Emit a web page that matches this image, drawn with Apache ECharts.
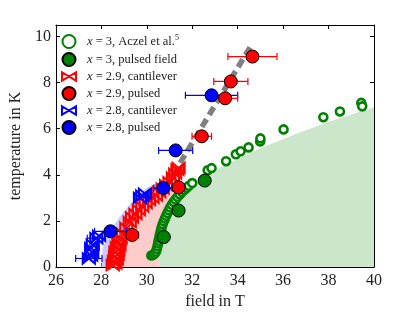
<!DOCTYPE html>
<html><head><meta charset="utf-8">
<script src="https://cdn.jsdelivr.net/npm/echarts@6/dist/echarts.min.js"></script>
<style>html,body{margin:0;padding:0;background:#fff}#c{width:394px;height:315px}</style>
</head><body><div id="c"></div>
<script>
// ---- data (field in T, temperature in K) ----
const aczelX3 = [[30.2,0.5],[30.27,0.52],[30.34,0.58],[30.4,0.66],[30.44,0.78],[30.47,0.9],[30.5,1.02],[30.52,1.14],[30.55,1.26],[30.57,1.38],[30.6,1.5],[30.63,1.62],[30.66,1.74],[30.7,1.86],[30.75,1.98],[30.8,2.1],[30.85,2.22],[30.91,2.34],[30.97,2.46],[31.03,2.58],[31.1,2.7],[31.18,2.82],[31.26,2.93],[31.35,3.04],[31.45,3.15],[31.55,3.25],[31.65,3.34],[31.75,3.43],[31.85,3.52],[32.0,3.64],[32.68,4.2],[32.85,4.29],[33.49,4.59],[33.92,4.89],[34.13,5.02],[34.48,5.19],[34.99,5.45],[35.0,5.58],[36.02,5.97],[37.77,6.5],[38.5,6.75],[39.44,7.12],[39.48,6.97]];
const pulsedX3 = [[30.75,1.3],[31.4,2.45],[32.55,3.75]];
const cantX29 = [[28.5,0.08],[28.62,0.15],[28.55,0.25],[28.68,0.35],[28.6,0.45],[28.72,0.55],[28.62,0.65],[28.75,0.75],[28.68,0.85],[28.8,0.95],[28.75,1.05],[28.85,1.25],[28.95,1.45],[29.1,1.7],[29.25,1.95],[29.35,2.15],[29.5,2.3],[29.65,2.47],[29.8,2.62],[29.95,2.78],[30.1,2.9],[30.25,3.0],[30.4,3.1],[30.55,3.25],[30.7,3.4],[30.85,3.55],[31.0,3.68],[31.15,3.88],[31.25,4.05],[31.35,4.22],[31.4,4.3]];
const pulsedX29 = [[29.36,1.39],[31.4,3.46],[32.42,5.67],[33.45,7.32],[33.7,8.05],[34.65,9.13]];
const pulsedX29Err = [0.28,0.2,0.43,0.55,0.75,1.08];
const cantX28 = [[27.45,0.37],[27.55,0.5],[27.6,0.65],[27.55,0.82],[27.62,0.97],[27.78,1.25],[27.9,1.35],[29.7,3.0],[29.8,3.1],[29.92,3.18]];
const cantX28Err = [0.58,0,0,0,0,0.4,0,0,0,0];
const pulsedX28 = [[28.4,1.55],[30.73,3.43],[31.27,5.06],[32.85,7.45]];
const pulsedX28Err = [0.7,0.42,0.75,1.15];
const guideLine = [[31.15,4.0],[34.65,9.7]];
const regionGreen = [[30.5,0],[30.6,0.8],[30.75,1.6],[31.0,2.4],[31.35,3.0],[31.9,3.5],[32.6,4.0],[33.6,4.5],[35.0,5.15],[36.5,5.75],[38.0,6.3],[40,6.93],[40,0]];
const regionPink = [[28.35,0],[28.5,0.8],[28.85,1.6],[29.35,2.3],[29.9,2.9],[30.4,3.35],[30.9,3.65],[31.5,3.6],[31.9,3.5],[31.35,3.0],[31.0,2.4],[30.75,1.6],[30.6,0.8],[30.5,0]];
const regionBlue = [[28.0,0],[28.05,0.8],[28.4,1.6],[28.9,2.3],[29.5,3.0],[30.0,3.45],[30.6,3.7],[30.9,3.65],[30.4,3.35],[29.9,2.9],[29.35,2.3],[28.85,1.6],[28.5,0.8],[28.35,0]];
const seriesNames = ['x3a','x3p','x29c','x29p','x28c','x28p'];
const legendLabels = {
  x3a: '{i|x} = 3, Aczel et al.{s|5}',
  x3p: '{i|x} = 3, pulsed field',
  x29c: '{i|x} = 2.9, cantilever',
  x29p: '{i|x} = 2.9, pulsed',
  x28c: '{i|x} = 2.8, cantilever',
  x28p: '{i|x} = 2.8, pulsed'
};

const FONT = 'Liberation Serif';
const bowtie = 'path://M0,0L10,6L0,12ZM20,0L10,6L20,12Z';

function regionSeries(pts, color) {
  return {
    type: 'custom', silent: true, data: [[0,0]], z: 1,
    renderItem: function (params, api) {
      return { type: 'polygon', shape: { points: pts.map(p => api.coord(p)) },
               style: { fill: color, stroke: 'none' } };
    }
  };
}
function errSeries(pts, errs, color) {
  const data = pts.map((p, i) => [p[0], p[1], errs[i]]).filter(d => d[2] > 0);
  return {
    type: 'custom', silent: true, data: data, z: 3,
    renderItem: function (params, api) {
      const x = api.value(0), y = api.value(1), e = api.value(2);
      const a = api.coord([x - e, y]), b = api.coord([x + e, y]);
      const st = { stroke: color, lineWidth: 1.2 };
      return { type: 'group', children: [
        { type: 'line', shape: { x1: a[0], y1: a[1], x2: b[0], y2: b[1] }, style: st },
        { type: 'line', shape: { x1: a[0], y1: a[1] - 3.5, x2: a[0], y2: a[1] + 3.5 }, style: st },
        { type: 'line', shape: { x1: b[0], y1: b[1] - 3.5, x2: b[0], y2: b[1] + 3.5 }, style: st }
      ]};
    }
  };
}

const axisCommon = {
  axisLine: { show: true, onZero: false, lineStyle: { color: '#000', width: 1 } },
  axisTick: { show: true, inside: true, length: 4, lineStyle: { color: '#000', width: 1 } },
  splitLine: { show: false }
};
const emph = { disabled: true };

const chart = echarts.init(document.getElementById('c'), null, { renderer: 'canvas' });
chart.setOption({
  animation: false,
  backgroundColor: '#fff',
  grid: { left: 47, right: 20, top: 25, bottom: 48, containLabel: false },
  xAxis: [
    Object.assign({ type: 'value', min: 26, max: 40, interval: 2, position: 'bottom',
      name: 'field in T', nameLocation: 'middle', nameGap: 22,
      nameTextStyle: { fontFamily: FONT, fontSize: 16, color: '#222' },
      axisLabel: { fontFamily: FONT, fontSize: 16, color: '#222', margin: 6 } }, axisCommon),
    Object.assign({ type: 'value', min: 26, max: 40, interval: 2, position: 'top',
      axisLabel: { show: false } }, axisCommon)
  ],
  yAxis: [
    Object.assign({ type: 'value', min: 0, max: 10.5, interval: 2, position: 'left',
      name: 'temperature in K', nameLocation: 'middle', nameGap: 27,
      nameTextStyle: { fontFamily: FONT, fontSize: 16, color: '#222' },
      axisLabel: { fontFamily: FONT, fontSize: 16, color: '#222', margin: 5 } }, axisCommon),
    Object.assign({ type: 'value', min: 0, max: 10.5, interval: 2, position: 'right',
      axisLabel: { show: false } }, axisCommon)
  ],
  legend: {
    data: seriesNames, orient: 'vertical', left: 61, top: 34, padding: 0,
    itemWidth: 14, itemHeight: 13, itemGap: 3,
    formatter: n => legendLabels[n],
    textStyle: { fontFamily: FONT, fontSize: 12.5, color: '#222', padding: [0,0,0,6],
      rich: { i: { fontFamily: FONT, fontStyle: 'italic', fontSize: 12.5, color: '#222' },
              s: { fontFamily: FONT, fontSize: 8, color: '#222', padding: [0,0,7,0] } } }
  },
  series: [
    regionSeries(regionGreen, 'rgb(204,230,204)'),
    regionSeries(regionBlue, 'rgb(204,204,255)'),
    regionSeries(regionPink, 'rgb(255,204,204)'),
    { name: 'x3a', type: 'scatter', data: aczelX3, symbol: 'circle', symbolSize: 8, z: 2, emphasis: emph,
      itemStyle: { color: '#fff', borderColor: '#008000', borderWidth: 2.6, opacity: 1 } },
    { name: 'x3p', type: 'scatter', data: pulsedX3, symbol: 'circle', symbolSize: 13, z: 2, emphasis: emph,
      itemStyle: { color: '#008000', borderColor: '#000', borderWidth: 1, opacity: 1 } },
    { name: 'x29c', type: 'scatter', data: cantX29, symbol: bowtie, symbolSize: [12, 10], z: 2, emphasis: emph,
      itemStyle: { color: 'rgba(255,255,255,0)', borderColor: '#ff0000', borderWidth: 2, opacity: 1 } },
    { name: 'x28c', type: 'scatter', data: cantX28, symbol: bowtie, symbolSize: [12, 10], z: 2, emphasis: emph,
      itemStyle: { color: 'rgba(255,255,255,0)', borderColor: '#0000ff', borderWidth: 2, opacity: 1 } },
    errSeries(cantX28, cantX28Err, '#0000ff'),
    { type: 'line', data: guideLine, symbol: 'none', silent: true, z: 2,
      lineStyle: { color: '#7f7f7f', width: 5.5, type: [9, 5], cap: 'butt', opacity: 1 } },
    errSeries(pulsedX28, pulsedX28Err, '#0000ff'),
    { name: 'x28p', type: 'scatter', data: pulsedX28, symbol: 'circle', symbolSize: 13, z: 3, emphasis: emph,
      itemStyle: { color: '#0000ff', borderColor: '#000', borderWidth: 1, opacity: 1 } },
    errSeries(pulsedX29, pulsedX29Err, '#ff0000'),
    { name: 'x29p', type: 'scatter', data: pulsedX29, symbol: 'circle', symbolSize: 13, z: 3, emphasis: emph,
      itemStyle: { color: '#ff0000', borderColor: '#000', borderWidth: 1, opacity: 1 } }
  ]
});
</script></body></html>
